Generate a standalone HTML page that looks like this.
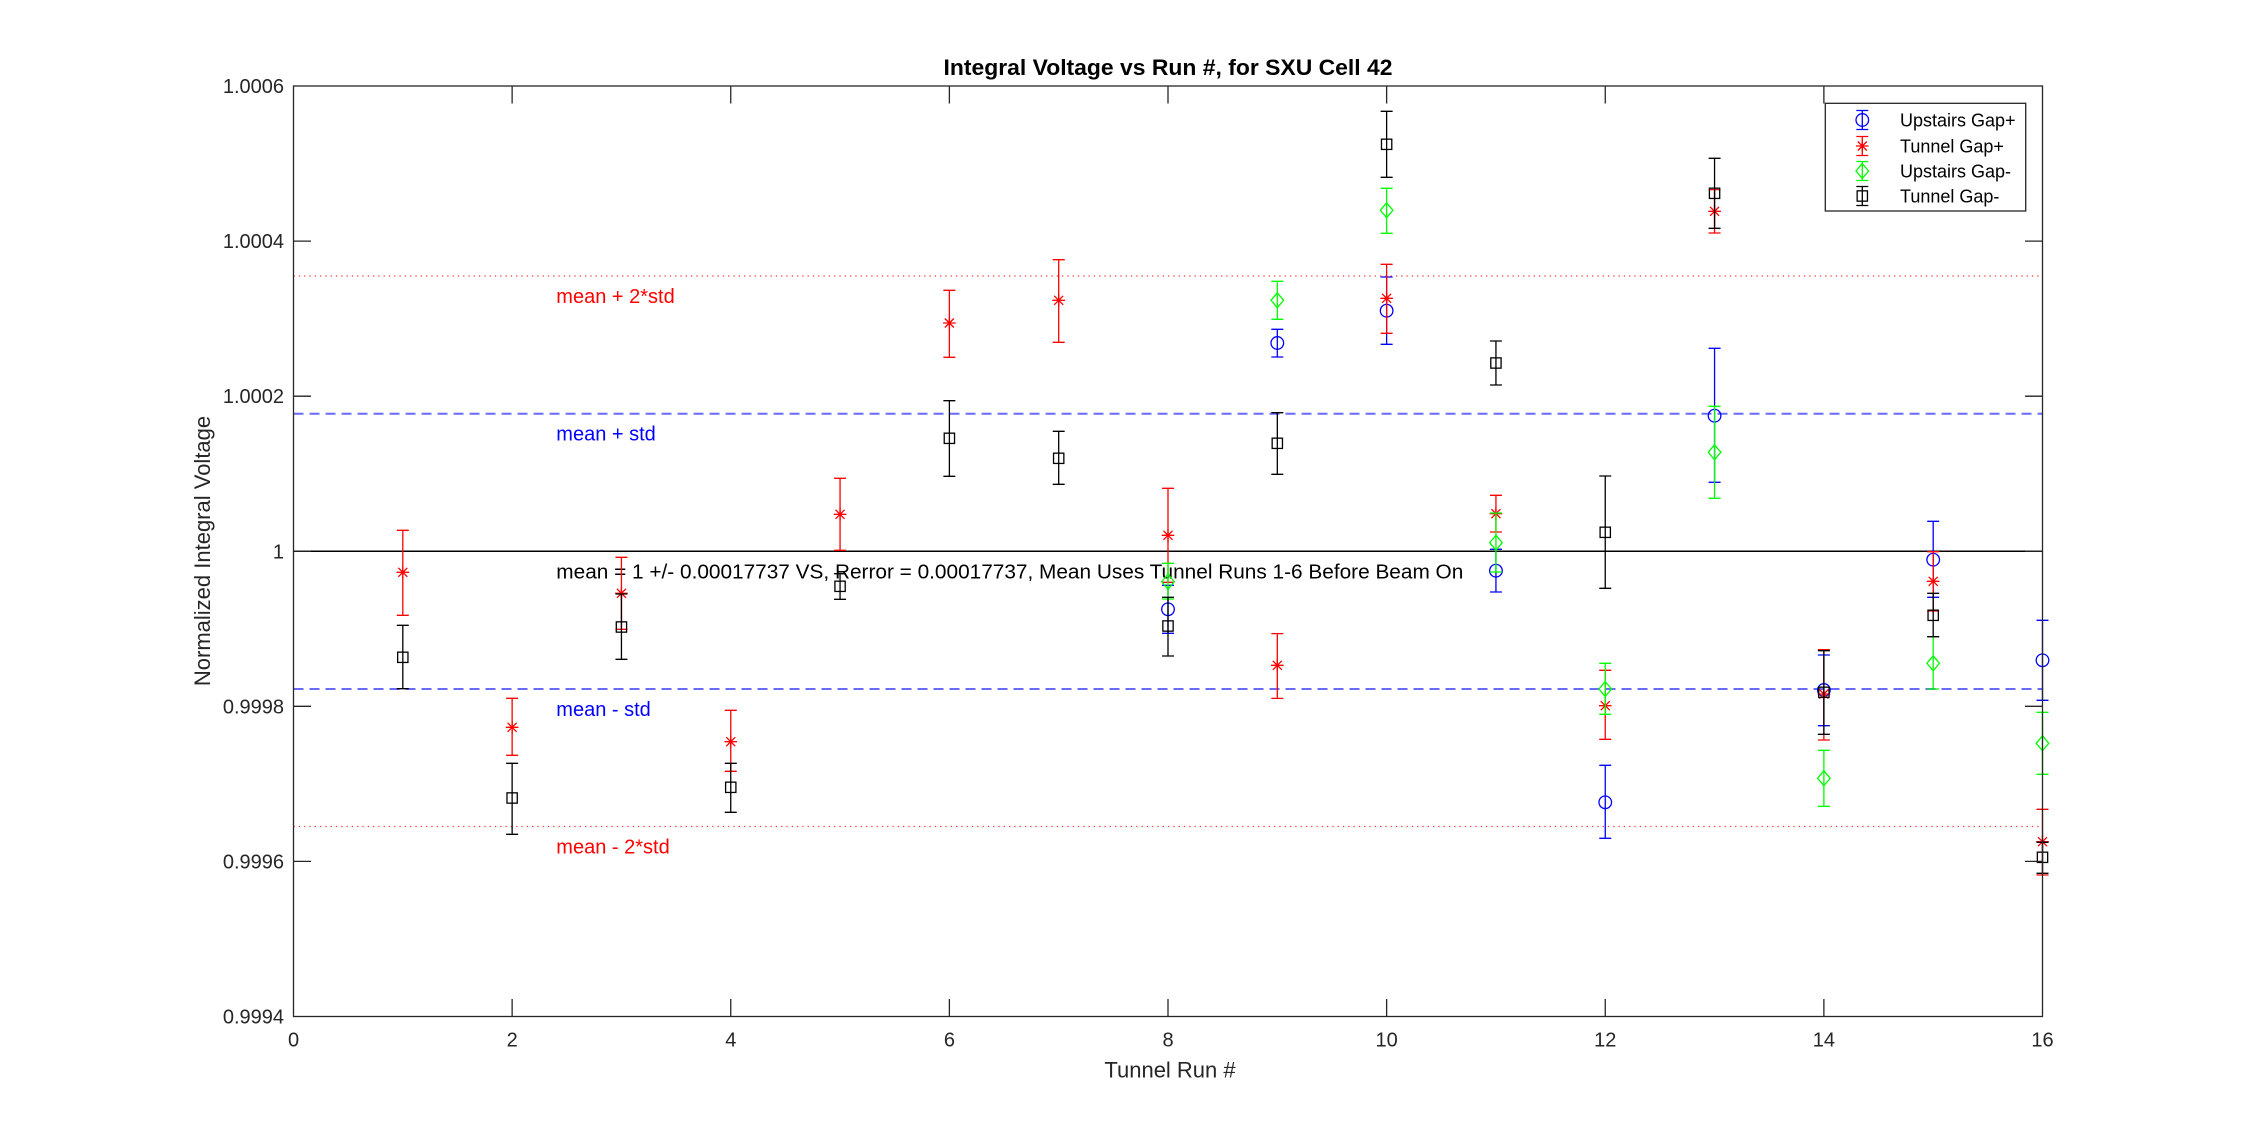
<!DOCTYPE html>
<html><head><meta charset="utf-8"><style>
html,body{margin:0;padding:0;background:#fff;}
svg{display:block;}
text{font-family:"Liberation Sans",Arial,sans-serif;}
</style></head><body>
<svg width="2258" height="1143" viewBox="0 0 2258 1143" xmlns="http://www.w3.org/2000/svg">
<rect width="2258" height="1143" fill="#fff"/>
<defs>
<g id="mc"><circle r="6.3" fill="none" stroke="#0000ff" stroke-width="1.3"/></g>
<g id="ms" stroke="#ff0000" stroke-width="1.3"><path d="M-6.3,0H6.3M0,-6.3V6.3M-4.5,-4.5L4.5,4.5M-4.5,4.5L4.5,-4.5"/></g>
<g id="md"><polygon points="0,-7.5 6.3,0 0,7.5 -6.3,0" fill="none" stroke="#00ff00" stroke-width="1.3"/></g>
<g id="mq"><rect x="-5.15" y="-5.15" width="10.3" height="10.3" fill="none" stroke="#000" stroke-width="1.3"/></g>
</defs>

<!-- reference lines -->
<line x1="293.5" y1="276" x2="2042.5" y2="276" stroke="#ff3b3b" stroke-width="1.3" stroke-dasharray="1.3 4"/>
<line x1="293.5" y1="413.7" x2="2042.5" y2="413.7" stroke="#6a6aff" stroke-width="2" stroke-dasharray="10 6"/>
<line x1="293.5" y1="551.25" x2="2042.5" y2="551.25" stroke="#000" stroke-width="1.5"/>
<line x1="293.5" y1="689" x2="2042.5" y2="689" stroke="#6a6aff" stroke-width="2" stroke-dasharray="10 6"/>
<line x1="293.5" y1="826.5" x2="2042.5" y2="826.5" stroke="#ff3b3b" stroke-width="1.3" stroke-dasharray="1.3 4"/>

<!-- annotations -->
<text x="556.3" y="303" font-size="20" fill="#ff0000">mean + 2*std</text>
<text x="556.3" y="440.7" font-size="20" fill="#0000ff">mean + std</text>
<text x="556.3" y="578.3" font-size="20" fill="#000" textLength="907" lengthAdjust="spacingAndGlyphs">mean = 1 +/- 0.00017737 VS, Rerror = 0.00017737, Mean Uses Tunnel Runs 1-6 Before Beam On</text>
<text x="556.3" y="716" font-size="20" fill="#0000ff">mean - std</text>
<text x="556.3" y="853.5" font-size="20" fill="#ff0000">mean - 2*std</text>

<!-- Blue: Upstairs Gap+ -->
<path fill="none" stroke="#0000ff" stroke-width="1.3" d="
M1168,585.3V633.3M1162,585.3H1174M1162,633.3H1174
M1277.31,329.3V357M1271.31,329.3H1283.31M1271.31,357H1283.31
M1386.63,277V344.3M1380.63,277H1392.63M1380.63,344.3H1392.63
M1495.94,549.3V592M1489.94,549.3H1501.94M1489.94,592H1501.94
M1605.25,765.3V838.3M1599.25,765.3H1611.25M1599.25,838.3H1611.25
M1714.56,348.3V482.3M1708.56,348.3H1720.56M1708.56,482.3H1720.56
M1823.88,655V725.7M1817.88,655H1829.88M1817.88,725.7H1829.88
M1933.19,521.3V597.3M1927.19,521.3H1939.19M1927.19,597.3H1939.19
M2042.5,620.3V700.3M2036.5,620.3H2048.5M2036.5,700.3H2048.5"/>
<use href="#mc" x="1168" y="609.3"/>
<use href="#mc" x="1277.31" y="343"/>
<use href="#mc" x="1386.63" y="310.7"/>
<use href="#mc" x="1495.94" y="570.7"/>
<use href="#mc" x="1605.25" y="802.3"/>
<use href="#mc" x="1714.56" y="415.7"/>
<use href="#mc" x="1823.88" y="690"/>
<use href="#mc" x="1933.19" y="559.7"/>
<use href="#mc" x="2042.5" y="660.3"/>

<!-- Red: Tunnel Gap+ -->
<path fill="none" stroke="#ff0000" stroke-width="1.3" d="
M402.81,530.3V615.3M396.81,530.3H408.81M396.81,615.3H408.81
M512.13,698.3V755.3M506.13,698.3H518.13M506.13,755.3H518.13
M621.44,557.3V629.3M615.44,557.3H627.44M615.44,629.3H627.44
M730.75,710.3V771.3M724.75,710.3H736.75M724.75,771.3H736.75
M840.06,478.3V550.3M834.06,478.3H846.06M834.06,550.3H846.06
M949.38,290.3V357.3M943.38,290.3H955.38M943.38,357.3H955.38
M1058.69,259.7V342.3M1052.69,259.7H1064.69M1052.69,342.3H1064.69
M1168,488.3V582.3M1162,488.3H1174M1162,582.3H1174
M1277.31,633.6V698.4M1271.31,633.6H1283.31M1271.31,698.4H1283.31
M1386.63,264.3V333.3M1380.63,264.3H1392.63M1380.63,333.3H1392.63
M1495.94,495.3V532M1489.94,495.3H1501.94M1489.94,532H1501.94
M1605.25,670.3V739.3M1599.25,670.3H1611.25M1599.25,739.3H1611.25
M1714.56,189.6V233M1708.56,189.6H1720.56M1708.56,233H1720.56
M1823.88,649.7V740M1817.88,649.7H1829.88M1817.88,740H1829.88
M1933.19,551.7V611M1927.19,551.7H1939.19M1927.19,611H1939.19
M2042.5,809.3V875M2036.5,809.3H2048.5M2036.5,875H2048.5"/>
<use href="#ms" x="402.81" y="572.3"/>
<use href="#ms" x="512.13" y="727.3"/>
<use href="#ms" x="621.44" y="593.3"/>
<use href="#ms" x="730.75" y="741.7"/>
<use href="#ms" x="840.06" y="514.3"/>
<use href="#ms" x="949.38" y="323"/>
<use href="#ms" x="1058.69" y="300.3"/>
<use href="#ms" x="1168" y="535.3"/>
<use href="#ms" x="1277.31" y="665.3"/>
<use href="#ms" x="1386.63" y="298.3"/>
<use href="#ms" x="1495.94" y="513.7"/>
<use href="#ms" x="1605.25" y="705.7"/>
<use href="#ms" x="1714.56" y="211.3"/>
<use href="#ms" x="1823.88" y="694"/>
<use href="#ms" x="1933.19" y="581.3"/>
<use href="#ms" x="2042.5" y="841.7"/>

<!-- Green: Upstairs Gap- -->
<path fill="none" stroke="#00ff00" stroke-width="1.3" d="
M1168,563.3V599M1162,563.3H1174M1162,599H1174
M1277.31,281.3V319.3M1271.31,281.3H1283.31M1271.31,319.3H1283.31
M1386.63,188.3V233.3M1380.63,188.3H1392.63M1380.63,233.3H1392.63
M1495.94,513V572M1489.94,513H1501.94M1489.94,572H1501.94
M1605.25,663.3V714.3M1599.25,663.3H1611.25M1599.25,714.3H1611.25
M1714.56,406.3V498.3M1708.56,406.3H1720.56M1708.56,498.3H1720.56
M1823.88,750.3V806.3M1817.88,750.3H1829.88M1817.88,806.3H1829.88
M1933.19,636.7V689M1927.19,636.7H1939.19M1927.19,689H1939.19
M2042.5,712.3V774.3M2036.5,712.3H2048.5M2036.5,774.3H2048.5"/>
<use href="#md" x="1168" y="581.7"/>
<use href="#md" x="1277.31" y="300.3"/>
<use href="#md" x="1386.63" y="210.3"/>
<use href="#md" x="1495.94" y="542.7"/>
<use href="#md" x="1605.25" y="689"/>
<use href="#md" x="1714.56" y="452.3"/>
<use href="#md" x="1823.88" y="778.3"/>
<use href="#md" x="1933.19" y="663.3"/>
<use href="#md" x="2042.5" y="743.3"/>

<!-- Black: Tunnel Gap- -->
<path fill="none" stroke="#000" stroke-width="1.3" d="
M402.81,625.3V688.7M396.81,625.3H408.81M396.81,688.7H408.81
M512.13,763.3V834.3M506.13,763.3H518.13M506.13,834.3H518.13
M621.44,594V659.3M615.44,594H627.44M615.44,659.3H627.44
M730.75,763.3V812.3M724.75,763.3H736.75M724.75,812.3H736.75
M840.06,573.7V599.3M834.06,573.7H846.06M834.06,599.3H846.06
M949.38,400.7V476.3M943.38,400.7H955.38M943.38,476.3H955.38
M1058.69,431.3V484.3M1052.69,431.3H1064.69M1052.69,484.3H1064.69
M1168,597.3V656M1162,597.3H1174M1162,656H1174
M1277.31,412.7V474.3M1271.31,412.7H1283.31M1271.31,474.3H1283.31
M1386.63,111.3V177.3M1380.63,111.3H1392.63M1380.63,177.3H1392.63
M1495.94,341V385M1489.94,341H1501.94M1489.94,385H1501.94
M1605.25,476V588.3M1599.25,476H1611.25M1599.25,588.3H1611.25
M1714.56,158.3V228.3M1708.56,158.3H1720.56M1708.56,228.3H1720.56
M1823.88,650.7V734.3M1817.88,650.7H1829.88M1817.88,734.3H1829.88
M1933.19,593.3V636.7M1927.19,593.3H1939.19M1927.19,636.7H1939.19
M2042.5,842.3V873.3M2036.5,842.3H2048.5M2036.5,873.3H2048.5"/>
<use href="#mq" x="402.81" y="657.3"/>
<use href="#mq" x="512.13" y="798"/>
<use href="#mq" x="621.44" y="627"/>
<use href="#mq" x="730.75" y="787.3"/>
<use href="#mq" x="840.06" y="586.3"/>
<use href="#mq" x="949.38" y="438.3"/>
<use href="#mq" x="1058.69" y="458.3"/>
<use href="#mq" x="1168" y="626"/>
<use href="#mq" x="1277.31" y="443.3"/>
<use href="#mq" x="1386.63" y="144.3"/>
<use href="#mq" x="1495.94" y="363"/>
<use href="#mq" x="1605.25" y="532.3"/>
<use href="#mq" x="1714.56" y="193.3"/>
<use href="#mq" x="1823.88" y="692.3"/>
<use href="#mq" x="1933.19" y="615.3"/>
<use href="#mq" x="2042.5" y="857.3"/>

<!-- axes box and ticks -->
<rect x="293.5" y="86" width="1749" height="930.5" fill="none" stroke="#262626" stroke-width="1.3"/>
<path fill="none" stroke="#262626" stroke-width="1.3" d="
M512.13,1016.5V999M730.75,1016.5V999M949.38,1016.5V999M1168,1016.5V999M1386.63,1016.5V999M1605.25,1016.5V999M1823.88,1016.5V999
M512.13,86V103.5M730.75,86V103.5M949.38,86V103.5M1168,86V103.5M1386.63,86V103.5M1605.25,86V103.5M1823.88,86V103.5
M293.5,241.1H311M293.5,396.2H311M293.5,551.25H311M293.5,706.3H311M293.5,861.4H311
M2042.5,241.1H2025M2042.5,396.2H2025M2042.5,551.25H2025M2042.5,706.3H2025M2042.5,861.4H2025"/>

<!-- y tick labels -->
<g font-size="20" fill="#262626" text-anchor="end">
<text x="284" y="93">1.0006</text>
<text x="284" y="248.1">1.0004</text>
<text x="284" y="403.2">1.0002</text>
<text x="284" y="558.25">1</text>
<text x="284" y="713.3">0.9998</text>
<text x="284" y="868.4">0.9996</text>
<text x="284" y="1023.5">0.9994</text>
</g>
<!-- x tick labels -->
<g font-size="20" fill="#262626" text-anchor="middle">
<text x="293.5" y="1046.7">0</text>
<text x="512.13" y="1046.7">2</text>
<text x="730.75" y="1046.7">4</text>
<text x="949.38" y="1046.7">6</text>
<text x="1168" y="1046.7">8</text>
<text x="1386.63" y="1046.7">10</text>
<text x="1605.25" y="1046.7">12</text>
<text x="1823.88" y="1046.7">14</text>
<text x="2042.5" y="1046.7">16</text>
</g>

<!-- axis labels and title -->
<text x="1170" y="1077.5" font-size="22" fill="#262626" text-anchor="middle">Tunnel Run #</text>
<text transform="translate(210,551) rotate(-90)" font-size="22" fill="#262626" text-anchor="middle">Normalized Integral Voltage</text>
<text x="1168" y="75" font-size="22" font-weight="bold" fill="#000" text-anchor="middle" textLength="449" lengthAdjust="spacingAndGlyphs">Integral Voltage vs Run #, for SXU Cell 42</text>

<!-- legend -->
<rect x="1825.3" y="103.3" width="200.4" height="107.7" fill="#fff" stroke="#262626" stroke-width="1.3"/>
<path fill="none" stroke="#0000ff" stroke-width="1.3" d="M1862.3,110.5V129.5M1856.3,110.5H1868.3M1856.3,129.5H1868.3"/>
<use href="#mc" x="1862.3" y="120"/>
<path fill="none" stroke="#ff0000" stroke-width="1.3" d="M1862.3,136.5V155.5M1856.3,136.5H1868.3M1856.3,155.5H1868.3"/>
<use href="#ms" x="1862.3" y="146"/>
<path fill="none" stroke="#00ff00" stroke-width="1.3" d="M1862.3,161.5V180.5M1856.3,161.5H1868.3M1856.3,180.5H1868.3"/>
<use href="#md" x="1862.3" y="171"/>
<path fill="none" stroke="#000" stroke-width="1.3" d="M1862.3,186.5V205.5M1856.3,186.5H1868.3M1856.3,205.5H1868.3"/>
<use href="#mq" x="1862.3" y="196"/>
<g font-size="18" fill="#000">
<text x="1900" y="126.5">Upstairs Gap+</text>
<text x="1900" y="152.5">Tunnel Gap+</text>
<text x="1900" y="177.5">Upstairs Gap-</text>
<text x="1900" y="202.5">Tunnel Gap-</text>
</g>
</svg>
</body></html>
